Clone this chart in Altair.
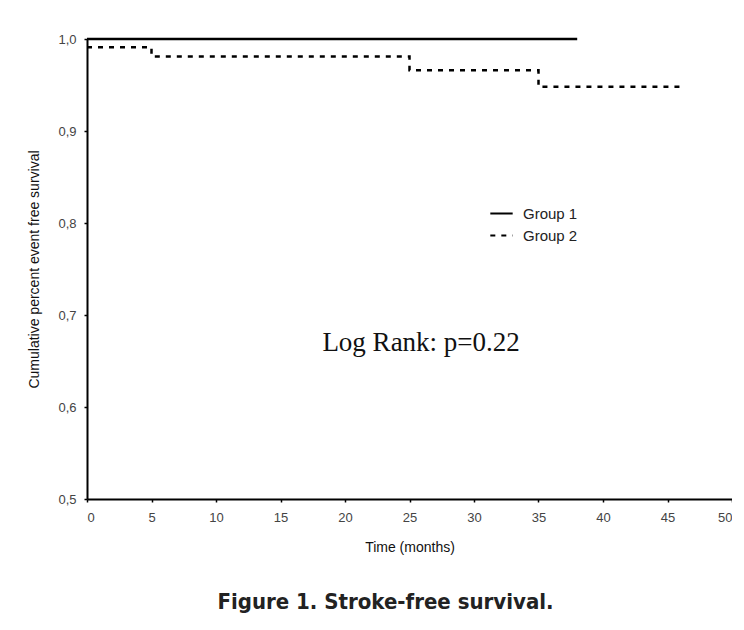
import altair as alt
import pandas as pd

# Kaplan-Meier step data
g1_time = [0, 38]
g1_surv = [1.0, 1.0]
g2_time = [0, 5, 25, 35, 46]
g2_surv = [0.991, 0.981, 0.966, 0.948, 0.948]
groups = ["Group 1", "Group 2"]
x_ticks = [0, 5, 10, 15, 20, 25, 30, 35, 40, 45, 50]
y_ticks = [0.5, 0.6, 0.7, 0.8, 0.9, 1.0]
note_text = ["Log Rank: p=0.22"]
note_x = [25.9]
note_y = [0.67]

df = pd.DataFrame(
    {"time": g1_time, "surv": g1_surv, "group": groups[0]}
)
df = pd.concat(
    [df, pd.DataFrame({"time": g2_time, "surv": g2_surv, "group": groups[1]})],
    ignore_index=True,
)
note = pd.DataFrame({"t": note_text, "x": note_x, "y": note_y})

xscale = alt.Scale(domain=[0, 50], nice=False, zero=False)
yscale = alt.Scale(domain=[0.5, 1.0], nice=False, zero=False)

lines = alt.Chart(df).mark_line(interpolate="step-after", color="black", strokeWidth=2.5).encode(
    x=alt.X("time:Q", scale=xscale,
            axis=alt.Axis(values=x_ticks, title="Time (months)", format="d")),
    y=alt.Y("surv:Q", scale=yscale,
            axis=alt.Axis(values=y_ticks, title="Cumulative percent event free survival",
                          labelExpr="replace(format(datum.value, '.1f'), '.', ',')")),
    strokeDash=alt.StrokeDash(
        "group:N",
        scale=alt.Scale(domain=groups, range=[[1, 0], [5, 6]]),
        legend=alt.Legend(title=None, orient="none", legendX=402, legendY=162,
                          symbolType="stroke", symbolSize=500, symbolStrokeWidth=2,
                          symbolStrokeColor="black", labelFontSize=15,
                          labelFont="Liberation Sans", labelColor="#222",
                          rowPadding=1, labelOffset=9),
    ),
)

text = alt.Chart(note).mark_text(
    font="Liberation Serif", fontSize=27, color="#111", align="center", baseline="middle"
).encode(x="x:Q", y="y:Q", text="t:N")

chart = alt.layer(lines, text).properties(
    width=645,
    height=460,
    autosize=alt.AutoSizeParams(type="none"),
    padding={"left": 79, "top": 31, "right": 0, "bottom": 122},
    title=alt.TitleParams(
        "Figure 1.  Stroke-free survival.",
        orient="bottom", anchor="middle", dx=-24, offset=38,
        font="DejaVu Sans Condensed, Liberation Sans, sans-serif", fontSize=22,
        fontWeight="bold", color="#222",
    ),
).configure_view(stroke=None).configure_axis(
    grid=False,
    domainColor="black",
    domainWidth=2,
    tickColor="black",
    tickSize=3,
    tickWidth=1.5,
    labelFont="Liberation Sans",
    labelFontSize=13,
    labelColor="#444",
    titleFont="Liberation Sans",
    titleFontSize=14,
    titleFontWeight="normal",
    titleColor="#111",
).configure_axisX(labelPadding=9, titlePadding=16).configure_axisY(labelPadding=8, titlePadding=16)

chart.save("out.html", embed_options={"renderer": "svg", "actions": False})
